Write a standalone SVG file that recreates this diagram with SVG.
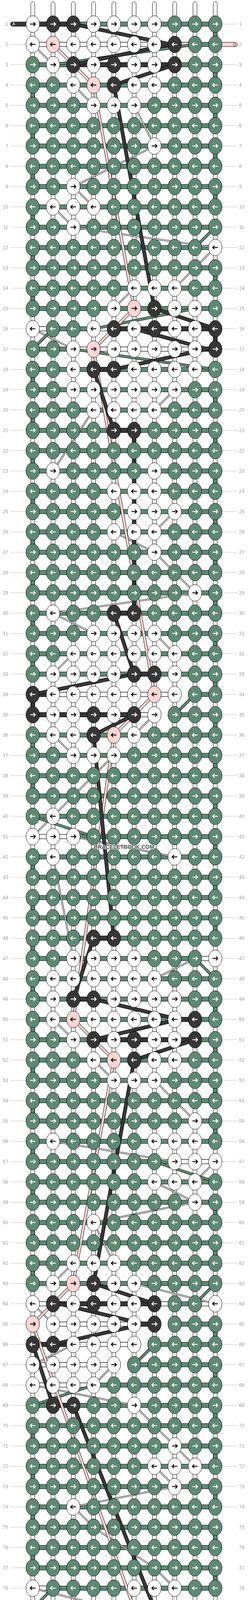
<svg xmlns="http://www.w3.org/2000/svg" width="636" height="4336" viewBox="0 0 636 4336">
<style>
.tb{fill:#fff;stroke:#000;stroke-width:1}
.tc{stroke:#c4c4c4;stroke-width:1;fill:none}
.g{fill:#5e8973;stroke:#000;stroke-width:1}
.w{fill:#fff;stroke:#000;stroke-width:1}
.d{fill:#363636;stroke:#000;stroke-width:1}
.p{fill:#ffd5d5;stroke:#000;stroke-width:1}
.n{fill:#fff}
.ll{font-family:"Liberation Sans",Arial,sans-serif;font-size:12.5px;fill:#a0a0a0;text-anchor:end}
.lr{font-family:"Liberation Sans",Arial,sans-serif;font-size:12.5px;fill:#a0a0a0}
.gl{stroke:#c0c0c0;stroke-width:1;fill:none}
.pl{font-family:"Liberation Sans",Arial,sans-serif;font-size:10.5px}
.wm{font-family:"Liberation Sans",Arial,sans-serif;font-size:14px;font-weight:bold;fill:#505050;stroke:#fff;stroke-width:2;paint-order:stroke;text-anchor:middle}
</style>
<defs>
<path id="a" d="M-6.8,0H6M1.8,-4.8L6.6,0L1.8,4.8" fill="none" stroke-width="2.2"/>
<ellipse id="e" rx="17.3" ry="21.3" stroke="#000" stroke-width="1"/>
<g id="GR"><use href="#e" fill="#5e8973"/><use href="#a" stroke="#fff"/></g>
<g id="GL"><use href="#e" fill="#5e8973"/><use href="#a" stroke="#fff" transform="scale(-1,1)"/></g>
<g id="DR"><use href="#e" fill="#363636"/><use href="#a" stroke="#fff"/></g>
<g id="DL"><use href="#e" fill="#363636"/><use href="#a" stroke="#fff" transform="scale(-1,1)"/></g>
<g id="WR"><use href="#e" fill="#fff"/><use href="#a" stroke="#000"/></g>
<g id="WL"><use href="#e" fill="#fff"/><use href="#a" stroke="#000" transform="scale(-1,1)"/></g>
<g id="PR"><use href="#e" fill="#ffd5d5"/><use href="#a" stroke="#000"/></g>
<g id="PL"><use href="#e" fill="#ffd5d5"/><use href="#a" stroke="#000" transform="scale(-1,1)"/></g>
<path id="pw" fill="none" d="M52,104L104,156M156,208L208,260M312,260L364,364M364,364L156,468M156,468L208,520M104,520L156,572M156,572L520,624M520,624L416,728M312,728L260,780M52,832L156,884M416,988L364,1040M208,1040L104,1196M416,1300L364,1352M260,1352L364,1404M364,1404L468,1508M468,1508L104,1560M104,1560L208,1612M364,1612L416,1664M156,1664L104,1716M364,1820L312,1872M104,1872L156,1924M260,1924L208,1976M208,1976L104,2080M104,2080L52,2132M156,2132L416,2184M104,2184L156,2444M468,2444L364,2496M104,2600L156,2652M208,2704L260,2756M364,2756L416,2808M416,2808L468,2860M104,2912L416,2964M520,2964L468,3016M364,3016L468,3068M468,3068L208,3120M208,3120L260,3224M156,3224L104,3276M312,3276L520,3328M52,3328L104,3380M156,3432L52,3484M260,3484L208,3536M52,3536L312,3588M312,3588L364,3640M364,3640L416,3692M416,3692L468,3744M364,3744L416,3796M416,3796L156,3848M156,3848L208,3900M208,3900L364,4004M364,4004L416,4056M52,4056L260,4108M208,4160L156,4212"/>
<path id="pg" fill="none" d="M468,104L104,156M468,780L208,832M156,884L520,936M104,832L52,884M520,572L468,624M468,1768L416,1820M52,2080L208,2132M468,2444L520,2496M364,2964L520,3016M520,3276L468,3328M364,3432L312,3484M208,3536L52,3588M104,4056L52,4108M468,4108L208,4160M156,4212L520,4264"/>
<path id="pp" fill="none" d="M104,104L208,208M208,208L312,780M312,780L208,884M208,884L364,1768M364,1768L260,1872M260,1872L156,2600M156,2600L260,2704M260,2704L156,3276M156,3276L52,3380M52,3380L312,4108M312,4108L208,4212"/>
<path id="pd" fill="none" d="M156,52L406,104M406,104L156,156M416,156L260,208M260,208L364,780M364,780L520,832M312,832L499,884M499,884L260,936M208,936L260,1092M312,1092L312,1560M260,1560L312,1716M312,1716L52,1768M52,1768L52,1820M312,1820L208,1872M208,1872L260,2392M208,2392L156,2548M208,2548L426,2600M426,2600L208,2652M468,2652L312,2704M312,2704L208,3276M208,3276L364,3328M120,3328L338,3380M338,3380L104,3432M52,3432L104,3588M156,3588L364,4108M364,4108L520,4160M312,4160L499,4212M499,4212L260,4264"/>
</defs>
<rect width="636" height="4336" fill="#fff"/>
<g transform="translate(32,9.7)">
<g id="connectors">
<g id="strands-vertical">
<rect class="tb" x="47" y="-5.2" width="10" height="4326.5" rx="5"/>
<rect class="tb" x="99" y="-5.2" width="10" height="4326.5" rx="5"/>
<rect class="tb" x="151" y="-5.2" width="10" height="4326.5" rx="5"/>
<rect class="tb" x="203" y="-5.2" width="10" height="4326.5" rx="5"/>
<rect class="tb" x="255" y="-5.2" width="10" height="4326.5" rx="5"/>
<rect class="tb" x="307" y="-5.2" width="10" height="4326.5" rx="5"/>
<rect class="tb" x="359" y="-5.2" width="10" height="4326.5" rx="5"/>
<rect class="tb" x="411" y="-5.2" width="10" height="4326.5" rx="5"/>
<rect class="tb" x="463" y="-5.2" width="10" height="4326.5" rx="5"/>
<rect class="tb" x="515" y="-5.2" width="10" height="4326.5" rx="5"/>
<path class="tc" d="M52,0V4316M104,0V4316M156,0V4316M208,0V4316M260,0V4316M312,0V4316M364,0V4316M416,0V4316M468,0V4316M520,0V4316"/>
</g>
<g id="pills">
<rect class="d" x="-5.3" y="46.5" width="70" height="11" rx="5.5"/>
<rect class="d" x="-5.3" y="4258.5" width="70" height="11" rx="5.5"/>
<rect class="p" x="500" y="98.5" width="76.7" height="11" rx="5.5"/>
<rect class="p" x="500" y="4206.5" width="76.7" height="11" rx="5.5"/>
</g>
<g id="strands-horizontal">
<path class="g" d="M52,46.5h468v11h-468zm0,52h468v11h-468zm0,52h468v11h-468zm0,52h468v11h-468zm0,52h468v11h-468zm0,52h468v11h-468zm0,52h468v11h-468zm0,52h468v11h-468zm0,52h468v11h-468zm0,52h468v11h-468zm0,52h468v11h-468zm0,52h468v11h-468zm0,52h468v11h-468zm0,52h468v11h-468zm0,52h468v11h-468zm0,52h468v11h-468zm0,52h468v11h-468zm0,52h468v11h-468zm0,52h468v11h-468zm0,52h468v11h-468zm0,52h468v11h-468zm0,52h468v11h-468zm0,52h468v11h-468zm0,52h468v11h-468zm0,52h468v11h-468zm0,52h468v11h-468zm0,52h468v11h-468zm0,52h468v11h-468zm0,52h468v11h-468zm0,52h468v11h-468zm0,52h468v11h-468zm0,52h468v11h-468zm0,52h468v11h-468zm0,52h468v11h-468zm0,52h468v11h-468zm0,52h468v11h-468zm0,52h468v11h-468zm0,52h468v11h-468zm0,52h468v11h-468zm0,52h468v11h-468zm0,52h468v11h-468zm0,52h468v11h-468zm0,52h468v11h-468zm0,52h468v11h-468zm0,52h468v11h-468zm0,52h468v11h-468zm0,52h468v11h-468zm0,52h468v11h-468zm0,52h468v11h-468zm0,52h468v11h-468zm0,52h468v11h-468zm0,52h468v11h-468zm0,52h468v11h-468zm0,52h468v11h-468zm0,52h468v11h-468zm0,52h468v11h-468zm0,52h468v11h-468zm0,52h468v11h-468zm0,52h468v11h-468zm0,52h468v11h-468zm0,52h468v11h-468zm0,52h468v11h-468zm0,52h468v11h-468zm0,52h468v11h-468zm0,52h468v11h-468zm0,52h468v11h-468zm0,52h468v11h-468zm0,52h468v11h-468zm0,52h468v11h-468zm0,52h468v11h-468zm0,52h468v11h-468zm0,52h468v11h-468zm0,52h468v11h-468zm0,52h468v11h-468zm0,52h468v11h-468zm0,52h468v11h-468zm0,52h468v11h-468zm0,52h468v11h-468zm0,52h468v11h-468zm0,52h468v11h-468zm0,52h468v11h-468z"/>
<rect class="d" x="52" y="46.5" width="104" height="11"/>
<rect class="w" x="52" y="98.5" width="312" height="11"/>
<rect class="d" x="364" y="98.5" width="52" height="11"/>
<rect class="p" x="416" y="98.5" width="52" height="11"/>
<rect class="d" x="156" y="150.5" width="260" height="11"/>
<rect class="w" x="52" y="826.5" width="52" height="11"/>
<rect class="w" x="208" y="826.5" width="52" height="11"/>
<rect class="d" x="260" y="826.5" width="260" height="11"/>
<rect class="w" x="156" y="878.5" width="312" height="11"/>
<rect class="d" x="468" y="878.5" width="52" height="11"/>
<rect class="d" x="208" y="930.5" width="52" height="11"/>
<rect class="d" x="260" y="1086.5" width="52" height="11"/>
<rect class="d" x="260" y="1554.5" width="52" height="11"/>
<rect class="d" x="312" y="1710.5" width="52" height="11"/>
<rect class="d" x="52" y="1762.5" width="52" height="11"/>
<rect class="w" x="104" y="1762.5" width="312" height="11"/>
<rect class="n" x="416" y="1761.5" width="52" height="13"/>
<rect class="d" x="52" y="1814.5" width="260" height="11"/>
<rect class="w" x="312" y="1814.5" width="52" height="11"/>
<rect class="n" x="364" y="1813.5" width="52" height="13"/>
<rect class="w" x="52" y="2126.5" width="104" height="11"/>
<rect class="d" x="208" y="2386.5" width="52" height="11"/>
<rect class="w" x="468" y="2438.5" width="52" height="11"/>
<rect class="d" x="156" y="2542.5" width="52" height="11"/>
<rect class="d" x="416" y="2594.5" width="52" height="11"/>
<rect class="d" x="208" y="2646.5" width="260" height="11"/>
<rect class="w" x="416" y="2958.5" width="104" height="11"/>
<rect class="w" x="52" y="3322.5" width="52" height="11"/>
<rect class="d" x="104" y="3322.5" width="260" height="11"/>
<rect class="w" x="364" y="3322.5" width="52" height="11"/>
<rect class="w" x="468" y="3322.5" width="52" height="11"/>
<rect class="n" x="52" y="3373.5" width="52" height="13"/>
<rect class="w" x="104" y="3374.5" width="208" height="11"/>
<rect class="d" x="312" y="3374.5" width="52" height="11"/>
<rect class="n" x="364" y="3373.5" width="52" height="13"/>
<rect class="d" x="52" y="3426.5" width="104" height="11"/>
<rect class="w" x="156" y="3426.5" width="156" height="11"/>
<rect class="n" x="312" y="3425.5" width="52" height="13"/>
<rect class="w" x="52" y="3478.5" width="208" height="11"/>
<rect class="n" x="260" y="3477.5" width="52" height="13"/>
<rect class="w" x="52" y="3530.5" width="156" height="11"/>
<rect class="d" x="104" y="3582.5" width="52" height="11"/>
<rect class="w" x="52" y="4050.5" width="52" height="11"/>
<rect class="w" x="208" y="4154.5" width="52" height="11"/>
<rect class="d" x="260" y="4154.5" width="260" height="11"/>
<rect class="w" x="156" y="4206.5" width="312" height="11"/>
<rect class="d" x="468" y="4206.5" width="52" height="11"/>
<rect class="d" x="52" y="4258.5" width="208" height="11"/>
</g>
<g id="strands-turns">
<path class="g" d="M515,72h10v12h-10zM515,176h10v12h-10zM515,280h10v12h-10zM515,384h10v12h-10zM515,488h10v12h-10zM515,696h10v12h-10zM515,1008h10v12h-10zM515,1112h10v12h-10zM515,1216h10v12h-10zM515,1320h10v12h-10zM515,1424h10v12h-10zM515,1528h10v12h-10zM515,1632h10v12h-10zM515,1736h10v12h-10zM515,1840h10v12h-10zM515,1944h10v12h-10zM515,2048h10v12h-10zM515,2152h10v12h-10zM515,2256h10v12h-10zM515,2360h10v12h-10zM515,2568h10v12h-10zM515,2672h10v12h-10zM515,2776h10v12h-10zM515,2880h10v12h-10zM515,3088h10v12h-10zM515,3192h10v12h-10zM515,3400h10v12h-10zM515,3504h10v12h-10zM515,3608h10v12h-10zM515,3712h10v12h-10zM515,3816h10v12h-10zM515,3920h10v12h-10zM515,4024h10v12h-10z"/>
<path class="g" d="M47,228h10v12h-10zM47,332h10v12h-10zM47,436h10v12h-10zM47,540h10v12h-10zM47,644h10v12h-10zM47,748h10v12h-10zM47,956h10v12h-10zM47,1060h10v12h-10zM47,1164h10v12h-10zM47,1268h10v12h-10zM47,1372h10v12h-10zM47,1476h10v12h-10zM47,1580h10v12h-10zM47,1684h10v12h-10zM47,1892h10v12h-10zM47,1996h10v12h-10zM47,2204h10v12h-10zM47,2308h10v12h-10zM47,2412h10v12h-10zM47,2516h10v12h-10zM47,2620h10v12h-10zM47,2724h10v12h-10zM47,2828h10v12h-10zM47,2932h10v12h-10zM47,3036h10v12h-10zM47,3140h10v12h-10zM47,3244h10v12h-10zM47,3660h10v12h-10zM47,3764h10v12h-10zM47,3868h10v12h-10zM47,3972h10v12h-10zM47,4180h10v12h-10z"/>
<path class="d" d="M515,852h10v12h-10zM515,4180h10v12h-10zM47,1788h10v12h-10z"/>
</g>
<g id="strands-float">
<use href="#pw" stroke="#000" stroke-width="4"/>
<use href="#pw" stroke="#fff" stroke-width="2"/>
<use href="#pg" stroke="#000" stroke-width="7"/>
<use href="#pg" stroke="#5e8973" stroke-width="5"/>
<use href="#pp" stroke="#000" stroke-width="7.5"/>
<use href="#pp" stroke="#ffd5d5" stroke-width="5.5"/>
<use href="#pd" stroke="#000" stroke-width="9.5"/>
<use href="#pd" stroke="#363636" stroke-width="7.5"/>
</g>
</g>
<g id="knots">
<g transform="translate(0,52)"><g id="k1-1"><use href="#WR" x="52"/></g><g id="k1-2"><use href="#DR" x="104"/></g><g id="k1-3"><use href="#DR" x="156"/></g><g id="k1-4"><use href="#WR" x="208"/></g><g id="k1-5"><use href="#WR" x="260"/></g><g id="k1-6"><use href="#WR" x="312"/></g><g id="k1-7"><use href="#WR" x="364"/></g><g id="k1-8"><use href="#GR" x="416"/></g><g id="k1-9"><use href="#GR" x="468"/></g><g id="k1-10"><use href="#GR" x="520"/></g></g>
<g transform="translate(0,104)"><g id="k2-1"><use href="#WL" x="52"/></g><g id="k2-2"><use href="#PL" x="104"/></g><g id="k2-3"><use href="#WL" x="156"/></g><g id="k2-4"><use href="#WL" x="208"/></g><g id="k2-5"><use href="#WL" x="260"/></g><g id="k2-6"><use href="#WL" x="312"/></g><g id="k2-7"><use href="#WL" x="364"/></g><g id="k2-8"><use href="#DL" x="416"/></g><g id="k2-9"><use href="#GL" x="468"/></g><g id="k2-10"><use href="#GL" x="520"/></g></g>
<g transform="translate(0,156)"><g id="k3-1"><use href="#GR" x="52"/></g><g id="k3-2"><use href="#WR" x="104"/></g><g id="k3-3"><use href="#DR" x="156"/></g><g id="k3-4"><use href="#WR" x="208"/></g><g id="k3-5"><use href="#DR" x="260"/></g><g id="k3-6"><use href="#WR" x="312"/></g><g id="k3-7"><use href="#WR" x="364"/></g><g id="k3-8"><use href="#DR" x="416"/></g><g id="k3-9"><use href="#GR" x="468"/></g><g id="k3-10"><use href="#GR" x="520"/></g></g>
<g transform="translate(0,208)"><g id="k4-1"><use href="#GL" x="52"/></g><g id="k4-2"><use href="#GL" x="104"/></g><g id="k4-3"><use href="#WL" x="156"/></g><g id="k4-4"><use href="#PL" x="208"/></g><g id="k4-5"><use href="#DL" x="260"/></g><g id="k4-6"><use href="#WL" x="312"/></g><g id="k4-7"><use href="#WL" x="364"/></g><g id="k4-8"><use href="#GL" x="416"/></g><g id="k4-9"><use href="#GL" x="468"/></g><g id="k4-10"><use href="#GL" x="520"/></g></g>
<g transform="translate(0,260)"><g id="k5-1"><use href="#GR" x="52"/></g><g id="k5-2"><use href="#GR" x="104"/></g><g id="k5-3"><use href="#GR" x="156"/></g><g id="k5-4"><use href="#WR" x="208"/></g><g id="k5-5"><use href="#WR" x="260"/></g><g id="k5-6"><use href="#WR" x="312"/></g><g id="k5-7"><use href="#GR" x="364"/></g><g id="k5-8"><use href="#GR" x="416"/></g><g id="k5-9"><use href="#GR" x="468"/></g><g id="k5-10"><use href="#GR" x="520"/></g></g>
<g transform="translate(0,312)"><g id="k6-1"><use href="#GL" x="52"/></g><g id="k6-2"><use href="#GL" x="104"/></g><g id="k6-3"><use href="#GL" x="156"/></g><g id="k6-4"><use href="#GL" x="208"/></g><g id="k6-5"><use href="#GL" x="260"/></g><g id="k6-6"><use href="#GL" x="312"/></g><g id="k6-7"><use href="#GL" x="364"/></g><g id="k6-8"><use href="#GL" x="416"/></g><g id="k6-9"><use href="#GL" x="468"/></g><g id="k6-10"><use href="#GL" x="520"/></g></g>
<g transform="translate(0,364)"><g id="k7-1"><use href="#GR" x="52"/></g><g id="k7-2"><use href="#GR" x="104"/></g><g id="k7-3"><use href="#GR" x="156"/></g><g id="k7-4"><use href="#GR" x="208"/></g><g id="k7-5"><use href="#GR" x="260"/></g><g id="k7-6"><use href="#GR" x="312"/></g><g id="k7-7"><use href="#WR" x="364"/></g><g id="k7-8"><use href="#GR" x="416"/></g><g id="k7-9"><use href="#GR" x="468"/></g><g id="k7-10"><use href="#GR" x="520"/></g></g>
<g transform="translate(0,416)"><g id="k8-1"><use href="#GL" x="52"/></g><g id="k8-2"><use href="#GL" x="104"/></g><g id="k8-3"><use href="#GL" x="156"/></g><g id="k8-4"><use href="#GL" x="208"/></g><g id="k8-5"><use href="#GL" x="260"/></g><g id="k8-6"><use href="#GL" x="312"/></g><g id="k8-7"><use href="#GL" x="364"/></g><g id="k8-8"><use href="#GL" x="416"/></g><g id="k8-9"><use href="#GL" x="468"/></g><g id="k8-10"><use href="#GL" x="520"/></g></g>
<g transform="translate(0,468)"><g id="k9-1"><use href="#GR" x="52"/></g><g id="k9-2"><use href="#GR" x="104"/></g><g id="k9-3"><use href="#WR" x="156"/></g><g id="k9-4"><use href="#GR" x="208"/></g><g id="k9-5"><use href="#GR" x="260"/></g><g id="k9-6"><use href="#GR" x="312"/></g><g id="k9-7"><use href="#GR" x="364"/></g><g id="k9-8"><use href="#GR" x="416"/></g><g id="k9-9"><use href="#GR" x="468"/></g><g id="k9-10"><use href="#GR" x="520"/></g></g>
<g transform="translate(0,520)"><g id="k10-1"><use href="#GL" x="52"/></g><g id="k10-2"><use href="#WL" x="104"/></g><g id="k10-3"><use href="#WL" x="156"/></g><g id="k10-4"><use href="#WL" x="208"/></g><g id="k10-5"><use href="#GL" x="260"/></g><g id="k10-6"><use href="#GL" x="312"/></g><g id="k10-7"><use href="#GL" x="364"/></g><g id="k10-8"><use href="#GL" x="416"/></g><g id="k10-9"><use href="#GL" x="468"/></g><g id="k10-10"><use href="#GL" x="520"/></g></g>
<g transform="translate(0,572)"><g id="k11-1"><use href="#GR" x="52"/></g><g id="k11-2"><use href="#GR" x="104"/></g><g id="k11-3"><use href="#WR" x="156"/></g><g id="k11-4"><use href="#GR" x="208"/></g><g id="k11-5"><use href="#GR" x="260"/></g><g id="k11-6"><use href="#GR" x="312"/></g><g id="k11-7"><use href="#GR" x="364"/></g><g id="k11-8"><use href="#GR" x="416"/></g><g id="k11-9"><use href="#GR" x="468"/></g><g id="k11-10"><use href="#GR" x="520"/></g></g>
<g transform="translate(0,624)"><g id="k12-1"><use href="#GL" x="52"/></g><g id="k12-2"><use href="#GL" x="104"/></g><g id="k12-3"><use href="#GL" x="156"/></g><g id="k12-4"><use href="#GL" x="208"/></g><g id="k12-5"><use href="#GL" x="260"/></g><g id="k12-6"><use href="#GL" x="312"/></g><g id="k12-7"><use href="#GL" x="364"/></g><g id="k12-8"><use href="#GL" x="416"/></g><g id="k12-9"><use href="#GL" x="468"/></g><g id="k12-10"><use href="#WL" x="520"/></g></g>
<g transform="translate(0,676)"><g id="k13-1"><use href="#GR" x="52"/></g><g id="k13-2"><use href="#GR" x="104"/></g><g id="k13-3"><use href="#GR" x="156"/></g><g id="k13-4"><use href="#GR" x="208"/></g><g id="k13-5"><use href="#GR" x="260"/></g><g id="k13-6"><use href="#GR" x="312"/></g><g id="k13-7"><use href="#GR" x="364"/></g><g id="k13-8"><use href="#GR" x="416"/></g><g id="k13-9"><use href="#GR" x="468"/></g><g id="k13-10"><use href="#GR" x="520"/></g></g>
<g transform="translate(0,728)"><g id="k14-1"><use href="#GL" x="52"/></g><g id="k14-2"><use href="#GL" x="104"/></g><g id="k14-3"><use href="#GL" x="156"/></g><g id="k14-4"><use href="#GL" x="208"/></g><g id="k14-5"><use href="#GL" x="260"/></g><g id="k14-6"><use href="#WL" x="312"/></g><g id="k14-7"><use href="#WL" x="364"/></g><g id="k14-8"><use href="#WL" x="416"/></g><g id="k14-9"><use href="#GL" x="468"/></g><g id="k14-10"><use href="#GL" x="520"/></g></g>
<g transform="translate(0,780)"><g id="k15-1"><use href="#GR" x="52"/></g><g id="k15-2"><use href="#GR" x="104"/></g><g id="k15-3"><use href="#GR" x="156"/></g><g id="k15-4"><use href="#GR" x="208"/></g><g id="k15-5"><use href="#WR" x="260"/></g><g id="k15-6"><use href="#PR" x="312"/></g><g id="k15-7"><use href="#DR" x="364"/></g><g id="k15-8"><use href="#WR" x="416"/></g><g id="k15-9"><use href="#WR" x="468"/></g><g id="k15-10"><use href="#GR" x="520"/></g></g>
<g transform="translate(0,832)"><g id="k16-1"><use href="#WL" x="52"/></g><g id="k16-2"><use href="#GL" x="104"/></g><g id="k16-3"><use href="#GL" x="156"/></g><g id="k16-4"><use href="#WL" x="208"/></g><g id="k16-5"><use href="#DL" x="260"/></g><g id="k16-6"><use href="#WL" x="312"/></g><g id="k16-7"><use href="#DL" x="364"/></g><g id="k16-8"><use href="#WL" x="416"/></g><g id="k16-9"><use href="#WL" x="468"/></g><g id="k16-10"><use href="#DL" x="520"/></g></g>
<g transform="translate(0,884)"><g id="k17-1"><use href="#GR" x="52"/></g><g id="k17-2"><use href="#GR" x="104"/></g><g id="k17-3"><use href="#WR" x="156"/></g><g id="k17-4"><use href="#PR" x="208"/></g><g id="k17-5"><use href="#WR" x="260"/></g><g id="k17-6"><use href="#WR" x="312"/></g><g id="k17-7"><use href="#WR" x="364"/></g><g id="k17-8"><use href="#WR" x="416"/></g><g id="k17-9"><use href="#WR" x="468"/></g><g id="k17-10"><use href="#DR" x="520"/></g></g>
<g transform="translate(0,936)"><g id="k18-1"><use href="#GL" x="52"/></g><g id="k18-2"><use href="#GL" x="104"/></g><g id="k18-3"><use href="#WL" x="156"/></g><g id="k18-4"><use href="#DL" x="208"/></g><g id="k18-5"><use href="#DL" x="260"/></g><g id="k18-6"><use href="#WL" x="312"/></g><g id="k18-7"><use href="#WL" x="364"/></g><g id="k18-8"><use href="#WL" x="416"/></g><g id="k18-9"><use href="#WL" x="468"/></g><g id="k18-10"><use href="#GL" x="520"/></g></g>
<g transform="translate(0,988)"><g id="k19-1"><use href="#GR" x="52"/></g><g id="k19-2"><use href="#GR" x="104"/></g><g id="k19-3"><use href="#WR" x="156"/></g><g id="k19-4"><use href="#WR" x="208"/></g><g id="k19-5"><use href="#WR" x="260"/></g><g id="k19-6"><use href="#WR" x="312"/></g><g id="k19-7"><use href="#WR" x="364"/></g><g id="k19-8"><use href="#WR" x="416"/></g><g id="k19-9"><use href="#GR" x="468"/></g><g id="k19-10"><use href="#GR" x="520"/></g></g>
<g transform="translate(0,1040)"><g id="k20-1"><use href="#GL" x="52"/></g><g id="k20-2"><use href="#GL" x="104"/></g><g id="k20-3"><use href="#GL" x="156"/></g><g id="k20-4"><use href="#WL" x="208"/></g><g id="k20-5"><use href="#WL" x="260"/></g><g id="k20-6"><use href="#WL" x="312"/></g><g id="k20-7"><use href="#WL" x="364"/></g><g id="k20-8"><use href="#GL" x="416"/></g><g id="k20-9"><use href="#GL" x="468"/></g><g id="k20-10"><use href="#GL" x="520"/></g></g>
<g transform="translate(0,1092)"><g id="k21-1"><use href="#GR" x="52"/></g><g id="k21-2"><use href="#GR" x="104"/></g><g id="k21-3"><use href="#GR" x="156"/></g><g id="k21-4"><use href="#GR" x="208"/></g><g id="k21-5"><use href="#DR" x="260"/></g><g id="k21-6"><use href="#DR" x="312"/></g><g id="k21-7"><use href="#GR" x="364"/></g><g id="k21-8"><use href="#GR" x="416"/></g><g id="k21-9"><use href="#GR" x="468"/></g><g id="k21-10"><use href="#GR" x="520"/></g></g>
<g transform="translate(0,1144)"><g id="k22-1"><use href="#GL" x="52"/></g><g id="k22-2"><use href="#GL" x="104"/></g><g id="k22-3"><use href="#GL" x="156"/></g><g id="k22-4"><use href="#GL" x="208"/></g><g id="k22-5"><use href="#GL" x="260"/></g><g id="k22-6"><use href="#GL" x="312"/></g><g id="k22-7"><use href="#GL" x="364"/></g><g id="k22-8"><use href="#GL" x="416"/></g><g id="k22-9"><use href="#GL" x="468"/></g><g id="k22-10"><use href="#GL" x="520"/></g></g>
<g transform="translate(0,1196)"><g id="k23-1"><use href="#GR" x="52"/></g><g id="k23-2"><use href="#WR" x="104"/></g><g id="k23-3"><use href="#GR" x="156"/></g><g id="k23-4"><use href="#GR" x="208"/></g><g id="k23-5"><use href="#GR" x="260"/></g><g id="k23-6"><use href="#GR" x="312"/></g><g id="k23-7"><use href="#WR" x="364"/></g><g id="k23-8"><use href="#GR" x="416"/></g><g id="k23-9"><use href="#GR" x="468"/></g><g id="k23-10"><use href="#GR" x="520"/></g></g>
<g transform="translate(0,1248)"><g id="k24-1"><use href="#GL" x="52"/></g><g id="k24-2"><use href="#GL" x="104"/></g><g id="k24-3"><use href="#GL" x="156"/></g><g id="k24-4"><use href="#GL" x="208"/></g><g id="k24-5"><use href="#WL" x="260"/></g><g id="k24-6"><use href="#WL" x="312"/></g><g id="k24-7"><use href="#WL" x="364"/></g><g id="k24-8"><use href="#GL" x="416"/></g><g id="k24-9"><use href="#GL" x="468"/></g><g id="k24-10"><use href="#GL" x="520"/></g></g>
<g transform="translate(0,1300)"><g id="k25-1"><use href="#GR" x="52"/></g><g id="k25-2"><use href="#GR" x="104"/></g><g id="k25-3"><use href="#GR" x="156"/></g><g id="k25-4"><use href="#GR" x="208"/></g><g id="k25-5"><use href="#GR" x="260"/></g><g id="k25-6"><use href="#WR" x="312"/></g><g id="k25-7"><use href="#WR" x="364"/></g><g id="k25-8"><use href="#WR" x="416"/></g><g id="k25-9"><use href="#GR" x="468"/></g><g id="k25-10"><use href="#GR" x="520"/></g></g>
<g transform="translate(0,1352)"><g id="k26-1"><use href="#GL" x="52"/></g><g id="k26-2"><use href="#GL" x="104"/></g><g id="k26-3"><use href="#GL" x="156"/></g><g id="k26-4"><use href="#GL" x="208"/></g><g id="k26-5"><use href="#WL" x="260"/></g><g id="k26-6"><use href="#WL" x="312"/></g><g id="k26-7"><use href="#WL" x="364"/></g><g id="k26-8"><use href="#GL" x="416"/></g><g id="k26-9"><use href="#GL" x="468"/></g><g id="k26-10"><use href="#GL" x="520"/></g></g>
<g transform="translate(0,1404)"><g id="k27-1"><use href="#GR" x="52"/></g><g id="k27-2"><use href="#GR" x="104"/></g><g id="k27-3"><use href="#GR" x="156"/></g><g id="k27-4"><use href="#GR" x="208"/></g><g id="k27-5"><use href="#GR" x="260"/></g><g id="k27-6"><use href="#GR" x="312"/></g><g id="k27-7"><use href="#WR" x="364"/></g><g id="k27-8"><use href="#GR" x="416"/></g><g id="k27-9"><use href="#GR" x="468"/></g><g id="k27-10"><use href="#GR" x="520"/></g></g>
<g transform="translate(0,1456)"><g id="k28-1"><use href="#GL" x="52"/></g><g id="k28-2"><use href="#GL" x="104"/></g><g id="k28-3"><use href="#GL" x="156"/></g><g id="k28-4"><use href="#GL" x="208"/></g><g id="k28-5"><use href="#GL" x="260"/></g><g id="k28-6"><use href="#GL" x="312"/></g><g id="k28-7"><use href="#GL" x="364"/></g><g id="k28-8"><use href="#GL" x="416"/></g><g id="k28-9"><use href="#GL" x="468"/></g><g id="k28-10"><use href="#GL" x="520"/></g></g>
<g transform="translate(0,1508)"><g id="k29-1"><use href="#GR" x="52"/></g><g id="k29-2"><use href="#GR" x="104"/></g><g id="k29-3"><use href="#GR" x="156"/></g><g id="k29-4"><use href="#GR" x="208"/></g><g id="k29-5"><use href="#GR" x="260"/></g><g id="k29-6"><use href="#GR" x="312"/></g><g id="k29-7"><use href="#GR" x="364"/></g><g id="k29-8"><use href="#GR" x="416"/></g><g id="k29-9"><use href="#WR" x="468"/></g><g id="k29-10"><use href="#GR" x="520"/></g></g>
<g transform="translate(0,1560)"><g id="k30-1"><use href="#GL" x="52"/></g><g id="k30-2"><use href="#WL" x="104"/></g><g id="k30-3"><use href="#GL" x="156"/></g><g id="k30-4"><use href="#GL" x="208"/></g><g id="k30-5"><use href="#DL" x="260"/></g><g id="k30-6"><use href="#DL" x="312"/></g><g id="k30-7"><use href="#GL" x="364"/></g><g id="k30-8"><use href="#GL" x="416"/></g><g id="k30-9"><use href="#GL" x="468"/></g><g id="k30-10"><use href="#GL" x="520"/></g></g>
<g transform="translate(0,1612)"><g id="k31-1"><use href="#GR" x="52"/></g><g id="k31-2"><use href="#GR" x="104"/></g><g id="k31-3"><use href="#GR" x="156"/></g><g id="k31-4"><use href="#WR" x="208"/></g><g id="k31-5"><use href="#WR" x="260"/></g><g id="k31-6"><use href="#WR" x="312"/></g><g id="k31-7"><use href="#WR" x="364"/></g><g id="k31-8"><use href="#GR" x="416"/></g><g id="k31-9"><use href="#GR" x="468"/></g><g id="k31-10"><use href="#GR" x="520"/></g></g>
<g transform="translate(0,1664)"><g id="k32-1"><use href="#GL" x="52"/></g><g id="k32-2"><use href="#GL" x="104"/></g><g id="k32-3"><use href="#WL" x="156"/></g><g id="k32-4"><use href="#WL" x="208"/></g><g id="k32-5"><use href="#WL" x="260"/></g><g id="k32-6"><use href="#WL" x="312"/></g><g id="k32-7"><use href="#WL" x="364"/></g><g id="k32-8"><use href="#WL" x="416"/></g><g id="k32-9"><use href="#GL" x="468"/></g><g id="k32-10"><use href="#GL" x="520"/></g></g>
<g transform="translate(0,1716)"><g id="k33-1"><use href="#GR" x="52"/></g><g id="k33-2"><use href="#WR" x="104"/></g><g id="k33-3"><use href="#WR" x="156"/></g><g id="k33-4"><use href="#WR" x="208"/></g><g id="k33-5"><use href="#WR" x="260"/></g><g id="k33-6"><use href="#DR" x="312"/></g><g id="k33-7"><use href="#DR" x="364"/></g><g id="k33-8"><use href="#WR" x="416"/></g><g id="k33-9"><use href="#GR" x="468"/></g><g id="k33-10"><use href="#GR" x="520"/></g></g>
<g transform="translate(0,1768)"><g id="k34-1"><use href="#DL" x="52"/></g><g id="k34-2"><use href="#WL" x="104"/></g><g id="k34-3"><use href="#WL" x="156"/></g><g id="k34-4"><use href="#WL" x="208"/></g><g id="k34-5"><use href="#WL" x="260"/></g><g id="k34-6"><use href="#WL" x="312"/></g><g id="k34-7"><use href="#PL" x="364"/></g><g id="k34-8"><use href="#WL" x="416"/></g><g id="k34-9"><use href="#GL" x="468"/></g><g id="k34-10"><use href="#GL" x="520"/></g></g>
<g transform="translate(0,1820)"><g id="k35-1"><use href="#DR" x="52"/></g><g id="k35-2"><use href="#WR" x="104"/></g><g id="k35-3"><use href="#WR" x="156"/></g><g id="k35-4"><use href="#DR" x="208"/></g><g id="k35-5"><use href="#WR" x="260"/></g><g id="k35-6"><use href="#DR" x="312"/></g><g id="k35-7"><use href="#WR" x="364"/></g><g id="k35-8"><use href="#GR" x="416"/></g><g id="k35-9"><use href="#GR" x="468"/></g><g id="k35-10"><use href="#GR" x="520"/></g></g>
<g transform="translate(0,1872)"><g id="k36-1"><use href="#GL" x="52"/></g><g id="k36-2"><use href="#WL" x="104"/></g><g id="k36-3"><use href="#WL" x="156"/></g><g id="k36-4"><use href="#DL" x="208"/></g><g id="k36-5"><use href="#PL" x="260"/></g><g id="k36-6"><use href="#WL" x="312"/></g><g id="k36-7"><use href="#GL" x="364"/></g><g id="k36-8"><use href="#GL" x="416"/></g><g id="k36-9"><use href="#GL" x="468"/></g><g id="k36-10"><use href="#GL" x="520"/></g></g>
<g transform="translate(0,1924)"><g id="k37-1"><use href="#GR" x="52"/></g><g id="k37-2"><use href="#GR" x="104"/></g><g id="k37-3"><use href="#WR" x="156"/></g><g id="k37-4"><use href="#WR" x="208"/></g><g id="k37-5"><use href="#WR" x="260"/></g><g id="k37-6"><use href="#GR" x="312"/></g><g id="k37-7"><use href="#GR" x="364"/></g><g id="k37-8"><use href="#GR" x="416"/></g><g id="k37-9"><use href="#GR" x="468"/></g><g id="k37-10"><use href="#GR" x="520"/></g></g>
<g transform="translate(0,1976)"><g id="k38-1"><use href="#GL" x="52"/></g><g id="k38-2"><use href="#GL" x="104"/></g><g id="k38-3"><use href="#GL" x="156"/></g><g id="k38-4"><use href="#GL" x="208"/></g><g id="k38-5"><use href="#GL" x="260"/></g><g id="k38-6"><use href="#GL" x="312"/></g><g id="k38-7"><use href="#GL" x="364"/></g><g id="k38-8"><use href="#GL" x="416"/></g><g id="k38-9"><use href="#GL" x="468"/></g><g id="k38-10"><use href="#GL" x="520"/></g></g>
<g transform="translate(0,2028)"><g id="k39-1"><use href="#GR" x="52"/></g><g id="k39-2"><use href="#GR" x="104"/></g><g id="k39-3"><use href="#GR" x="156"/></g><g id="k39-4"><use href="#GR" x="208"/></g><g id="k39-5"><use href="#GR" x="260"/></g><g id="k39-6"><use href="#GR" x="312"/></g><g id="k39-7"><use href="#GR" x="364"/></g><g id="k39-8"><use href="#GR" x="416"/></g><g id="k39-9"><use href="#GR" x="468"/></g><g id="k39-10"><use href="#GR" x="520"/></g></g>
<g transform="translate(0,2080)"><g id="k40-1"><use href="#GL" x="52"/></g><g id="k40-2"><use href="#WL" x="104"/></g><g id="k40-3"><use href="#GL" x="156"/></g><g id="k40-4"><use href="#GL" x="208"/></g><g id="k40-5"><use href="#GL" x="260"/></g><g id="k40-6"><use href="#GL" x="312"/></g><g id="k40-7"><use href="#GL" x="364"/></g><g id="k40-8"><use href="#GL" x="416"/></g><g id="k40-9"><use href="#GL" x="468"/></g><g id="k40-10"><use href="#GL" x="520"/></g></g>
<g transform="translate(0,2132)"><g id="k41-1"><use href="#WR" x="52"/></g><g id="k41-2"><use href="#WR" x="104"/></g><g id="k41-3"><use href="#WR" x="156"/></g><g id="k41-4"><use href="#GR" x="208"/></g><g id="k41-5"><use href="#GR" x="260"/></g><g id="k41-6"><use href="#GR" x="312"/></g><g id="k41-7"><use href="#GR" x="364"/></g><g id="k41-8"><use href="#GR" x="416"/></g><g id="k41-9"><use href="#GR" x="468"/></g><g id="k41-10"><use href="#GR" x="520"/></g></g>
<g transform="translate(0,2184)"><g id="k42-1"><use href="#GL" x="52"/></g><g id="k42-2"><use href="#WL" x="104"/></g><g id="k42-3"><use href="#GL" x="156"/></g><g id="k42-4"><use href="#GL" x="208"/></g><g id="k42-5"><use href="#GL" x="260"/></g><g id="k42-6"><use href="#GL" x="312"/></g><g id="k42-7"><use href="#GL" x="364"/></g><g id="k42-8"><use href="#WL" x="416"/></g><g id="k42-9"><use href="#GL" x="468"/></g><g id="k42-10"><use href="#GL" x="520"/></g></g>
<g transform="translate(0,2236)"><g id="k43-1"><use href="#GR" x="52"/></g><g id="k43-2"><use href="#GR" x="104"/></g><g id="k43-3"><use href="#GR" x="156"/></g><g id="k43-4"><use href="#GR" x="208"/></g><g id="k43-5"><use href="#GR" x="260"/></g><g id="k43-6"><use href="#GR" x="312"/></g><g id="k43-7"><use href="#GR" x="364"/></g><g id="k43-8"><use href="#GR" x="416"/></g><g id="k43-9"><use href="#GR" x="468"/></g><g id="k43-10"><use href="#GR" x="520"/></g></g>
<g transform="translate(0,2288)"><g id="k44-1"><use href="#GL" x="52"/></g><g id="k44-2"><use href="#GL" x="104"/></g><g id="k44-3"><use href="#GL" x="156"/></g><g id="k44-4"><use href="#GL" x="208"/></g><g id="k44-5"><use href="#GL" x="260"/></g><g id="k44-6"><use href="#GL" x="312"/></g><g id="k44-7"><use href="#GL" x="364"/></g><g id="k44-8"><use href="#GL" x="416"/></g><g id="k44-9"><use href="#GL" x="468"/></g><g id="k44-10"><use href="#GL" x="520"/></g></g>
<g transform="translate(0,2340)"><g id="k45-1"><use href="#GR" x="52"/></g><g id="k45-2"><use href="#GR" x="104"/></g><g id="k45-3"><use href="#GR" x="156"/></g><g id="k45-4"><use href="#GR" x="208"/></g><g id="k45-5"><use href="#GR" x="260"/></g><g id="k45-6"><use href="#GR" x="312"/></g><g id="k45-7"><use href="#GR" x="364"/></g><g id="k45-8"><use href="#GR" x="416"/></g><g id="k45-9"><use href="#GR" x="468"/></g><g id="k45-10"><use href="#GR" x="520"/></g></g>
<g transform="translate(0,2392)"><g id="k46-1"><use href="#GL" x="52"/></g><g id="k46-2"><use href="#GL" x="104"/></g><g id="k46-3"><use href="#GL" x="156"/></g><g id="k46-4"><use href="#DL" x="208"/></g><g id="k46-5"><use href="#DL" x="260"/></g><g id="k46-6"><use href="#GL" x="312"/></g><g id="k46-7"><use href="#GL" x="364"/></g><g id="k46-8"><use href="#GL" x="416"/></g><g id="k46-9"><use href="#GL" x="468"/></g><g id="k46-10"><use href="#GL" x="520"/></g></g>
<g transform="translate(0,2444)"><g id="k47-1"><use href="#GR" x="52"/></g><g id="k47-2"><use href="#GR" x="104"/></g><g id="k47-3"><use href="#WR" x="156"/></g><g id="k47-4"><use href="#WR" x="208"/></g><g id="k47-5"><use href="#WR" x="260"/></g><g id="k47-6"><use href="#WR" x="312"/></g><g id="k47-7"><use href="#GR" x="364"/></g><g id="k47-8"><use href="#GR" x="416"/></g><g id="k47-9"><use href="#GR" x="468"/></g><g id="k47-10"><use href="#WR" x="520"/></g></g>
<g transform="translate(0,2496)"><g id="k48-1"><use href="#GL" x="52"/></g><g id="k48-2"><use href="#WL" x="104"/></g><g id="k48-3"><use href="#WL" x="156"/></g><g id="k48-4"><use href="#WL" x="208"/></g><g id="k48-5"><use href="#WL" x="260"/></g><g id="k48-6"><use href="#WL" x="312"/></g><g id="k48-7"><use href="#WL" x="364"/></g><g id="k48-8"><use href="#GL" x="416"/></g><g id="k48-9"><use href="#GL" x="468"/></g><g id="k48-10"><use href="#GL" x="520"/></g></g>
<g transform="translate(0,2548)"><g id="k49-1"><use href="#GR" x="52"/></g><g id="k49-2"><use href="#WR" x="104"/></g><g id="k49-3"><use href="#DR" x="156"/></g><g id="k49-4"><use href="#DR" x="208"/></g><g id="k49-5"><use href="#WR" x="260"/></g><g id="k49-6"><use href="#WR" x="312"/></g><g id="k49-7"><use href="#WR" x="364"/></g><g id="k49-8"><use href="#WR" x="416"/></g><g id="k49-9"><use href="#GR" x="468"/></g><g id="k49-10"><use href="#GR" x="520"/></g></g>
<g transform="translate(0,2600)"><g id="k50-1"><use href="#GL" x="52"/></g><g id="k50-2"><use href="#WL" x="104"/></g><g id="k50-3"><use href="#PL" x="156"/></g><g id="k50-4"><use href="#WL" x="208"/></g><g id="k50-5"><use href="#WL" x="260"/></g><g id="k50-6"><use href="#WL" x="312"/></g><g id="k50-7"><use href="#WL" x="364"/></g><g id="k50-8"><use href="#WL" x="416"/></g><g id="k50-9"><use href="#DL" x="468"/></g><g id="k50-10"><use href="#GL" x="520"/></g></g>
<g transform="translate(0,2652)"><g id="k51-1"><use href="#GR" x="52"/></g><g id="k51-2"><use href="#GR" x="104"/></g><g id="k51-3"><use href="#WR" x="156"/></g><g id="k51-4"><use href="#DR" x="208"/></g><g id="k51-5"><use href="#WR" x="260"/></g><g id="k51-6"><use href="#DR" x="312"/></g><g id="k51-7"><use href="#WR" x="364"/></g><g id="k51-8"><use href="#WR" x="416"/></g><g id="k51-9"><use href="#DR" x="468"/></g><g id="k51-10"><use href="#GR" x="520"/></g></g>
<g transform="translate(0,2704)"><g id="k52-1"><use href="#GL" x="52"/></g><g id="k52-2"><use href="#GL" x="104"/></g><g id="k52-3"><use href="#GL" x="156"/></g><g id="k52-4"><use href="#WL" x="208"/></g><g id="k52-5"><use href="#PL" x="260"/></g><g id="k52-6"><use href="#DL" x="312"/></g><g id="k52-7"><use href="#WL" x="364"/></g><g id="k52-8"><use href="#WL" x="416"/></g><g id="k52-9"><use href="#GL" x="468"/></g><g id="k52-10"><use href="#GL" x="520"/></g></g>
<g transform="translate(0,2756)"><g id="k53-1"><use href="#GR" x="52"/></g><g id="k53-2"><use href="#GR" x="104"/></g><g id="k53-3"><use href="#GR" x="156"/></g><g id="k53-4"><use href="#GR" x="208"/></g><g id="k53-5"><use href="#WR" x="260"/></g><g id="k53-6"><use href="#WR" x="312"/></g><g id="k53-7"><use href="#WR" x="364"/></g><g id="k53-8"><use href="#GR" x="416"/></g><g id="k53-9"><use href="#GR" x="468"/></g><g id="k53-10"><use href="#GR" x="520"/></g></g>
<g transform="translate(0,2808)"><g id="k54-1"><use href="#GL" x="52"/></g><g id="k54-2"><use href="#GL" x="104"/></g><g id="k54-3"><use href="#GL" x="156"/></g><g id="k54-4"><use href="#GL" x="208"/></g><g id="k54-5"><use href="#GL" x="260"/></g><g id="k54-6"><use href="#GL" x="312"/></g><g id="k54-7"><use href="#GL" x="364"/></g><g id="k54-8"><use href="#GL" x="416"/></g><g id="k54-9"><use href="#GL" x="468"/></g><g id="k54-10"><use href="#GL" x="520"/></g></g>
<g transform="translate(0,2860)"><g id="k55-1"><use href="#GR" x="52"/></g><g id="k55-2"><use href="#GR" x="104"/></g><g id="k55-3"><use href="#GR" x="156"/></g><g id="k55-4"><use href="#GR" x="208"/></g><g id="k55-5"><use href="#GR" x="260"/></g><g id="k55-6"><use href="#GR" x="312"/></g><g id="k55-7"><use href="#GR" x="364"/></g><g id="k55-8"><use href="#GR" x="416"/></g><g id="k55-9"><use href="#WR" x="468"/></g><g id="k55-10"><use href="#GR" x="520"/></g></g>
<g transform="translate(0,2912)"><g id="k56-1"><use href="#GL" x="52"/></g><g id="k56-2"><use href="#WL" x="104"/></g><g id="k56-3"><use href="#GL" x="156"/></g><g id="k56-4"><use href="#GL" x="208"/></g><g id="k56-5"><use href="#GL" x="260"/></g><g id="k56-6"><use href="#GL" x="312"/></g><g id="k56-7"><use href="#WL" x="364"/></g><g id="k56-8"><use href="#WL" x="416"/></g><g id="k56-9"><use href="#WL" x="468"/></g><g id="k56-10"><use href="#GL" x="520"/></g></g>
<g transform="translate(0,2964)"><g id="k57-1"><use href="#GR" x="52"/></g><g id="k57-2"><use href="#GR" x="104"/></g><g id="k57-3"><use href="#GR" x="156"/></g><g id="k57-4"><use href="#GR" x="208"/></g><g id="k57-5"><use href="#GR" x="260"/></g><g id="k57-6"><use href="#GR" x="312"/></g><g id="k57-7"><use href="#GR" x="364"/></g><g id="k57-8"><use href="#WR" x="416"/></g><g id="k57-9"><use href="#WR" x="468"/></g><g id="k57-10"><use href="#WR" x="520"/></g></g>
<g transform="translate(0,3016)"><g id="k58-1"><use href="#GL" x="52"/></g><g id="k58-2"><use href="#GL" x="104"/></g><g id="k58-3"><use href="#GL" x="156"/></g><g id="k58-4"><use href="#GL" x="208"/></g><g id="k58-5"><use href="#GL" x="260"/></g><g id="k58-6"><use href="#GL" x="312"/></g><g id="k58-7"><use href="#WL" x="364"/></g><g id="k58-8"><use href="#WL" x="416"/></g><g id="k58-9"><use href="#WL" x="468"/></g><g id="k58-10"><use href="#GL" x="520"/></g></g>
<g transform="translate(0,3068)"><g id="k59-1"><use href="#GR" x="52"/></g><g id="k59-2"><use href="#GR" x="104"/></g><g id="k59-3"><use href="#GR" x="156"/></g><g id="k59-4"><use href="#GR" x="208"/></g><g id="k59-5"><use href="#GR" x="260"/></g><g id="k59-6"><use href="#GR" x="312"/></g><g id="k59-7"><use href="#GR" x="364"/></g><g id="k59-8"><use href="#GR" x="416"/></g><g id="k59-9"><use href="#WR" x="468"/></g><g id="k59-10"><use href="#GR" x="520"/></g></g>
<g transform="translate(0,3120)"><g id="k60-1"><use href="#GL" x="52"/></g><g id="k60-2"><use href="#GL" x="104"/></g><g id="k60-3"><use href="#GL" x="156"/></g><g id="k60-4"><use href="#WL" x="208"/></g><g id="k60-5"><use href="#GL" x="260"/></g><g id="k60-6"><use href="#GL" x="312"/></g><g id="k60-7"><use href="#GL" x="364"/></g><g id="k60-8"><use href="#GL" x="416"/></g><g id="k60-9"><use href="#GL" x="468"/></g><g id="k60-10"><use href="#GL" x="520"/></g></g>
<g transform="translate(0,3172)"><g id="k61-1"><use href="#GR" x="52"/></g><g id="k61-2"><use href="#GR" x="104"/></g><g id="k61-3"><use href="#GR" x="156"/></g><g id="k61-4"><use href="#GR" x="208"/></g><g id="k61-5"><use href="#GR" x="260"/></g><g id="k61-6"><use href="#GR" x="312"/></g><g id="k61-7"><use href="#GR" x="364"/></g><g id="k61-8"><use href="#GR" x="416"/></g><g id="k61-9"><use href="#GR" x="468"/></g><g id="k61-10"><use href="#GR" x="520"/></g></g>
<g transform="translate(0,3224)"><g id="k62-1"><use href="#GL" x="52"/></g><g id="k62-2"><use href="#GL" x="104"/></g><g id="k62-3"><use href="#WL" x="156"/></g><g id="k62-4"><use href="#WL" x="208"/></g><g id="k62-5"><use href="#WL" x="260"/></g><g id="k62-6"><use href="#GL" x="312"/></g><g id="k62-7"><use href="#GL" x="364"/></g><g id="k62-8"><use href="#GL" x="416"/></g><g id="k62-9"><use href="#GL" x="468"/></g><g id="k62-10"><use href="#GL" x="520"/></g></g>
<g transform="translate(0,3276)"><g id="k63-1"><use href="#GR" x="52"/></g><g id="k63-2"><use href="#WR" x="104"/></g><g id="k63-3"><use href="#PR" x="156"/></g><g id="k63-4"><use href="#DR" x="208"/></g><g id="k63-5"><use href="#WR" x="260"/></g><g id="k63-6"><use href="#WR" x="312"/></g><g id="k63-7"><use href="#GR" x="364"/></g><g id="k63-8"><use href="#GR" x="416"/></g><g id="k63-9"><use href="#GR" x="468"/></g><g id="k63-10"><use href="#GR" x="520"/></g></g>
<g transform="translate(0,3328)"><g id="k64-1"><use href="#WL" x="52"/></g><g id="k64-2"><use href="#DL" x="104"/></g><g id="k64-3"><use href="#WL" x="156"/></g><g id="k64-4"><use href="#DL" x="208"/></g><g id="k64-5"><use href="#WL" x="260"/></g><g id="k64-6"><use href="#WL" x="312"/></g><g id="k64-7"><use href="#DL" x="364"/></g><g id="k64-8"><use href="#GL" x="416"/></g><g id="k64-9"><use href="#GL" x="468"/></g><g id="k64-10"><use href="#WL" x="520"/></g></g>
<g transform="translate(0,3380)"><g id="k65-1"><use href="#PR" x="52"/></g><g id="k65-2"><use href="#WR" x="104"/></g><g id="k65-3"><use href="#WR" x="156"/></g><g id="k65-4"><use href="#WR" x="208"/></g><g id="k65-5"><use href="#WR" x="260"/></g><g id="k65-6"><use href="#WR" x="312"/></g><g id="k65-7"><use href="#DR" x="364"/></g><g id="k65-8"><use href="#GR" x="416"/></g><g id="k65-9"><use href="#GR" x="468"/></g><g id="k65-10"><use href="#GR" x="520"/></g></g>
<g transform="translate(0,3432)"><g id="k66-1"><use href="#DL" x="52"/></g><g id="k66-2"><use href="#DL" x="104"/></g><g id="k66-3"><use href="#WL" x="156"/></g><g id="k66-4"><use href="#WL" x="208"/></g><g id="k66-5"><use href="#WL" x="260"/></g><g id="k66-6"><use href="#WL" x="312"/></g><g id="k66-7"><use href="#GL" x="364"/></g><g id="k66-8"><use href="#GL" x="416"/></g><g id="k66-9"><use href="#GL" x="468"/></g><g id="k66-10"><use href="#GL" x="520"/></g></g>
<g transform="translate(0,3484)"><g id="k67-1"><use href="#WR" x="52"/></g><g id="k67-2"><use href="#WR" x="104"/></g><g id="k67-3"><use href="#WR" x="156"/></g><g id="k67-4"><use href="#WR" x="208"/></g><g id="k67-5"><use href="#WR" x="260"/></g><g id="k67-6"><use href="#GR" x="312"/></g><g id="k67-7"><use href="#GR" x="364"/></g><g id="k67-8"><use href="#GR" x="416"/></g><g id="k67-9"><use href="#GR" x="468"/></g><g id="k67-10"><use href="#GR" x="520"/></g></g>
<g transform="translate(0,3536)"><g id="k68-1"><use href="#WL" x="52"/></g><g id="k68-2"><use href="#WL" x="104"/></g><g id="k68-3"><use href="#WL" x="156"/></g><g id="k68-4"><use href="#WL" x="208"/></g><g id="k68-5"><use href="#GL" x="260"/></g><g id="k68-6"><use href="#GL" x="312"/></g><g id="k68-7"><use href="#GL" x="364"/></g><g id="k68-8"><use href="#GL" x="416"/></g><g id="k68-9"><use href="#GL" x="468"/></g><g id="k68-10"><use href="#GL" x="520"/></g></g>
<g transform="translate(0,3588)"><g id="k69-1"><use href="#GR" x="52"/></g><g id="k69-2"><use href="#DR" x="104"/></g><g id="k69-3"><use href="#DR" x="156"/></g><g id="k69-4"><use href="#GR" x="208"/></g><g id="k69-5"><use href="#GR" x="260"/></g><g id="k69-6"><use href="#WR" x="312"/></g><g id="k69-7"><use href="#GR" x="364"/></g><g id="k69-8"><use href="#GR" x="416"/></g><g id="k69-9"><use href="#GR" x="468"/></g><g id="k69-10"><use href="#GR" x="520"/></g></g>
<g transform="translate(0,3640)"><g id="k70-1"><use href="#GL" x="52"/></g><g id="k70-2"><use href="#GL" x="104"/></g><g id="k70-3"><use href="#GL" x="156"/></g><g id="k70-4"><use href="#GL" x="208"/></g><g id="k70-5"><use href="#GL" x="260"/></g><g id="k70-6"><use href="#GL" x="312"/></g><g id="k70-7"><use href="#GL" x="364"/></g><g id="k70-8"><use href="#GL" x="416"/></g><g id="k70-9"><use href="#GL" x="468"/></g><g id="k70-10"><use href="#GL" x="520"/></g></g>
<g transform="translate(0,3692)"><g id="k71-1"><use href="#GR" x="52"/></g><g id="k71-2"><use href="#GR" x="104"/></g><g id="k71-3"><use href="#GR" x="156"/></g><g id="k71-4"><use href="#GR" x="208"/></g><g id="k71-5"><use href="#GR" x="260"/></g><g id="k71-6"><use href="#GR" x="312"/></g><g id="k71-7"><use href="#GR" x="364"/></g><g id="k71-8"><use href="#WR" x="416"/></g><g id="k71-9"><use href="#GR" x="468"/></g><g id="k71-10"><use href="#GR" x="520"/></g></g>
<g transform="translate(0,3744)"><g id="k72-1"><use href="#GL" x="52"/></g><g id="k72-2"><use href="#GL" x="104"/></g><g id="k72-3"><use href="#GL" x="156"/></g><g id="k72-4"><use href="#GL" x="208"/></g><g id="k72-5"><use href="#GL" x="260"/></g><g id="k72-6"><use href="#GL" x="312"/></g><g id="k72-7"><use href="#WL" x="364"/></g><g id="k72-8"><use href="#WL" x="416"/></g><g id="k72-9"><use href="#WL" x="468"/></g><g id="k72-10"><use href="#GL" x="520"/></g></g>
<g transform="translate(0,3796)"><g id="k73-1"><use href="#GR" x="52"/></g><g id="k73-2"><use href="#GR" x="104"/></g><g id="k73-3"><use href="#GR" x="156"/></g><g id="k73-4"><use href="#GR" x="208"/></g><g id="k73-5"><use href="#GR" x="260"/></g><g id="k73-6"><use href="#GR" x="312"/></g><g id="k73-7"><use href="#GR" x="364"/></g><g id="k73-8"><use href="#WR" x="416"/></g><g id="k73-9"><use href="#GR" x="468"/></g><g id="k73-10"><use href="#GR" x="520"/></g></g>
<g transform="translate(0,3848)"><g id="k74-1"><use href="#GL" x="52"/></g><g id="k74-2"><use href="#GL" x="104"/></g><g id="k74-3"><use href="#WL" x="156"/></g><g id="k74-4"><use href="#GL" x="208"/></g><g id="k74-5"><use href="#GL" x="260"/></g><g id="k74-6"><use href="#GL" x="312"/></g><g id="k74-7"><use href="#GL" x="364"/></g><g id="k74-8"><use href="#GL" x="416"/></g><g id="k74-9"><use href="#GL" x="468"/></g><g id="k74-10"><use href="#GL" x="520"/></g></g>
<g transform="translate(0,3900)"><g id="k75-1"><use href="#GR" x="52"/></g><g id="k75-2"><use href="#GR" x="104"/></g><g id="k75-3"><use href="#GR" x="156"/></g><g id="k75-4"><use href="#GR" x="208"/></g><g id="k75-5"><use href="#GR" x="260"/></g><g id="k75-6"><use href="#GR" x="312"/></g><g id="k75-7"><use href="#GR" x="364"/></g><g id="k75-8"><use href="#GR" x="416"/></g><g id="k75-9"><use href="#GR" x="468"/></g><g id="k75-10"><use href="#GR" x="520"/></g></g>
<g transform="translate(0,3952)"><g id="k76-1"><use href="#GL" x="52"/></g><g id="k76-2"><use href="#GL" x="104"/></g><g id="k76-3"><use href="#GL" x="156"/></g><g id="k76-4"><use href="#GL" x="208"/></g><g id="k76-5"><use href="#GL" x="260"/></g><g id="k76-6"><use href="#GL" x="312"/></g><g id="k76-7"><use href="#GL" x="364"/></g><g id="k76-8"><use href="#GL" x="416"/></g><g id="k76-9"><use href="#GL" x="468"/></g><g id="k76-10"><use href="#GL" x="520"/></g></g>
<g transform="translate(0,4004)"><g id="k77-1"><use href="#GR" x="52"/></g><g id="k77-2"><use href="#GR" x="104"/></g><g id="k77-3"><use href="#GR" x="156"/></g><g id="k77-4"><use href="#GR" x="208"/></g><g id="k77-5"><use href="#GR" x="260"/></g><g id="k77-6"><use href="#GR" x="312"/></g><g id="k77-7"><use href="#GR" x="364"/></g><g id="k77-8"><use href="#GR" x="416"/></g><g id="k77-9"><use href="#GR" x="468"/></g><g id="k77-10"><use href="#GR" x="520"/></g></g>
<g transform="translate(0,4056)"><g id="k78-1"><use href="#WL" x="52"/></g><g id="k78-2"><use href="#GL" x="104"/></g><g id="k78-3"><use href="#GL" x="156"/></g><g id="k78-4"><use href="#GL" x="208"/></g><g id="k78-5"><use href="#GL" x="260"/></g><g id="k78-6"><use href="#WL" x="312"/></g><g id="k78-7"><use href="#WL" x="364"/></g><g id="k78-8"><use href="#WL" x="416"/></g><g id="k78-9"><use href="#GL" x="468"/></g><g id="k78-10"><use href="#GL" x="520"/></g></g>
<g transform="translate(0,4108)"><g id="k79-1"><use href="#GR" x="52"/></g><g id="k79-2"><use href="#GR" x="104"/></g><g id="k79-3"><use href="#GR" x="156"/></g><g id="k79-4"><use href="#GR" x="208"/></g><g id="k79-5"><use href="#WR" x="260"/></g><g id="k79-6"><use href="#PR" x="312"/></g><g id="k79-7"><use href="#DR" x="364"/></g><g id="k79-8"><use href="#WR" x="416"/></g><g id="k79-9"><use href="#WR" x="468"/></g><g id="k79-10"><use href="#GR" x="520"/></g></g>
<g transform="translate(0,4160)"><g id="k80-1"><use href="#GL" x="52"/></g><g id="k80-2"><use href="#GL" x="104"/></g><g id="k80-3"><use href="#GL" x="156"/></g><g id="k80-4"><use href="#WL" x="208"/></g><g id="k80-5"><use href="#DL" x="260"/></g><g id="k80-6"><use href="#WL" x="312"/></g><g id="k80-7"><use href="#DL" x="364"/></g><g id="k80-8"><use href="#WL" x="416"/></g><g id="k80-9"><use href="#WL" x="468"/></g><g id="k80-10"><use href="#DL" x="520"/></g></g>
<g transform="translate(0,4212)"><g id="k81-1"><use href="#GR" x="52"/></g><g id="k81-2"><use href="#GR" x="104"/></g><g id="k81-3"><use href="#WR" x="156"/></g><g id="k81-4"><use href="#PR" x="208"/></g><g id="k81-5"><use href="#WR" x="260"/></g><g id="k81-6"><use href="#WR" x="312"/></g><g id="k81-7"><use href="#WR" x="364"/></g><g id="k81-8"><use href="#WR" x="416"/></g><g id="k81-9"><use href="#WR" x="468"/></g><g id="k81-10"><use href="#DR" x="520"/></g></g>
<g transform="translate(0,4264)"><g id="k82-1"><use href="#GL" x="52"/></g><g id="k82-2"><use href="#GL" x="104"/></g><g id="k82-3"><use href="#WL" x="156"/></g><g id="k82-4"><use href="#DL" x="208"/></g><g id="k82-5"><use href="#DL" x="260"/></g><g id="k82-6"><use href="#WL" x="312"/></g><g id="k82-7"><use href="#WL" x="364"/></g><g id="k82-8"><use href="#WL" x="416"/></g><g id="k82-9"><use href="#WL" x="468"/></g><g id="k82-10"><use href="#GL" x="520"/></g></g>
</g>
<g id="labels">
<text class="pl" x="-0.5" y="55.8" fill="#fff">A</text>
<text class="pl" x="-0.5" y="4267.8" fill="#fff">A</text>
<text class="pl" x="566" y="107.9" fill="#333">D</text>
<text class="pl" x="566" y="4215.9" fill="#333">D</text>
<path class="gl" d="M-6,104h40m-40,52h40m-40,52h40m-40,52h40m-40,52h40m-40,52h40m-40,52h40m-40,52h40m-40,52h40m-40,52h40m-40,52h40m-40,52h40m-40,52h40m-40,52h40m-40,52h40m-40,52h40m-40,52h40m-40,52h40m-40,52h40m-40,52h40m-40,52h40m-40,52h40m-40,52h40m-40,52h40m-40,52h40m-40,52h40m-40,52h40m-40,52h40m-40,52h40m-40,52h40m-40,52h40m-40,52h40m-40,52h40m-40,52h40m-40,52h40m-40,52h40m-40,52h40m-40,52h40m-40,52h40m-40,52h40m-40,52h40m-40,52h40m-40,52h40m-40,52h40m-40,52h40m-40,52h40m-40,52h40m-40,52h40m-40,52h40m-40,52h40m-40,52h40m-40,52h40m-40,52h40m-40,52h40m-40,52h40m-40,52h40m-40,52h40m-40,52h40m-40,52h40m-40,52h40m-40,52h40m-40,52h40m-40,52h40m-40,52h40m-40,52h40m-40,52h40m-40,52h40m-40,52h40m-40,52h40m-40,52h40m-40,52h40m-40,52h40m-40,52h40m-40,52h40m-40,52h40m-40,52h40m-40,52h40m-40,52h40m-40,52h40"/>
<path class="gl" d="M538,52h40M538,156h40m-40,52h40m-40,52h40m-40,52h40m-40,52h40m-40,52h40m-40,52h40m-40,52h40m-40,52h40m-40,52h40m-40,52h40m-40,52h40m-40,52h40m-40,52h40m-40,52h40m-40,52h40m-40,52h40m-40,52h40m-40,52h40m-40,52h40m-40,52h40m-40,52h40m-40,52h40m-40,52h40m-40,52h40m-40,52h40m-40,52h40m-40,52h40m-40,52h40m-40,52h40m-40,52h40m-40,52h40m-40,52h40m-40,52h40m-40,52h40m-40,52h40m-40,52h40m-40,52h40m-40,52h40m-40,52h40m-40,52h40m-40,52h40m-40,52h40m-40,52h40m-40,52h40m-40,52h40m-40,52h40m-40,52h40m-40,52h40m-40,52h40m-40,52h40m-40,52h40m-40,52h40m-40,52h40m-40,52h40m-40,52h40m-40,52h40m-40,52h40m-40,52h40m-40,52h40m-40,52h40m-40,52h40m-40,52h40m-40,52h40m-40,52h40m-40,52h40m-40,52h40m-40,52h40m-40,52h40m-40,52h40m-40,52h40m-40,52h40M538,4264h40"/>
<text class="ll" x="-11" y="56.5">1</text><text class="ll" x="-11" y="108.5">2</text><text class="ll" x="-11" y="160.5">3</text><text class="ll" x="-11" y="212.5">4</text><text class="ll" x="-11" y="264.5">5</text><text class="ll" x="-11" y="316.5">6</text><text class="ll" x="-11" y="368.5">7</text><text class="ll" x="-11" y="420.5">8</text><text class="ll" x="-11" y="472.5">9</text><text class="ll" x="-11" y="524.5">10</text>
<text class="ll" x="-11" y="576.5">11</text><text class="ll" x="-11" y="628.5">12</text><text class="ll" x="-11" y="680.5">13</text><text class="ll" x="-11" y="732.5">14</text><text class="ll" x="-11" y="784.5">15</text><text class="ll" x="-11" y="836.5">16</text><text class="ll" x="-11" y="888.5">17</text><text class="ll" x="-11" y="940.5">18</text><text class="ll" x="-11" y="992.5">19</text><text class="ll" x="-11" y="1044.5">20</text>
<text class="ll" x="-11" y="1096.5">21</text><text class="ll" x="-11" y="1148.5">22</text><text class="ll" x="-11" y="1200.5">23</text><text class="ll" x="-11" y="1252.5">24</text><text class="ll" x="-11" y="1304.5">25</text><text class="ll" x="-11" y="1356.5">26</text><text class="ll" x="-11" y="1408.5">27</text><text class="ll" x="-11" y="1460.5">28</text><text class="ll" x="-11" y="1512.5">29</text><text class="ll" x="-11" y="1564.5">30</text>
<text class="ll" x="-11" y="1616.5">31</text><text class="ll" x="-11" y="1668.5">32</text><text class="ll" x="-11" y="1720.5">33</text><text class="ll" x="-11" y="1772.5">34</text><text class="ll" x="-11" y="1824.5">35</text><text class="ll" x="-11" y="1876.5">36</text><text class="ll" x="-11" y="1928.5">37</text><text class="ll" x="-11" y="1980.5">38</text><text class="ll" x="-11" y="2032.5">39</text><text class="ll" x="-11" y="2084.5">40</text>
<text class="ll" x="-11" y="2136.5">41</text><text class="ll" x="-11" y="2188.5">42</text><text class="ll" x="-11" y="2240.5">43</text><text class="ll" x="-11" y="2292.5">44</text><text class="ll" x="-11" y="2344.5">45</text><text class="ll" x="-11" y="2396.5">46</text><text class="ll" x="-11" y="2448.5">47</text><text class="ll" x="-11" y="2500.5">48</text><text class="ll" x="-11" y="2552.5">49</text><text class="ll" x="-11" y="2604.5">50</text>
<text class="ll" x="-11" y="2656.5">51</text><text class="ll" x="-11" y="2708.5">52</text><text class="ll" x="-11" y="2760.5">53</text><text class="ll" x="-11" y="2812.5">54</text><text class="ll" x="-11" y="2864.5">55</text><text class="ll" x="-11" y="2916.5">56</text><text class="ll" x="-11" y="2968.5">57</text><text class="ll" x="-11" y="3020.5">58</text><text class="ll" x="-11" y="3072.5">59</text><text class="ll" x="-11" y="3124.5">60</text>
<text class="ll" x="-11" y="3176.5">61</text><text class="ll" x="-11" y="3228.5">62</text><text class="ll" x="-11" y="3280.5">63</text><text class="ll" x="-11" y="3332.5">64</text><text class="ll" x="-11" y="3384.5">65</text><text class="ll" x="-11" y="3436.5">66</text><text class="ll" x="-11" y="3488.5">67</text><text class="ll" x="-11" y="3540.5">68</text><text class="ll" x="-11" y="3592.5">69</text><text class="ll" x="-11" y="3644.5">70</text>
<text class="ll" x="-11" y="3696.5">71</text><text class="ll" x="-11" y="3748.5">72</text><text class="ll" x="-11" y="3800.5">73</text><text class="ll" x="-11" y="3852.5">74</text><text class="ll" x="-11" y="3904.5">75</text><text class="ll" x="-11" y="3956.5">76</text><text class="ll" x="-11" y="4008.5">77</text><text class="ll" x="-11" y="4060.5">78</text><text class="ll" x="-11" y="4112.5">79</text><text class="ll" x="-11" y="4164.5">80</text>
<text class="ll" x="-11" y="4216.5">81</text><text class="ll" x="-11" y="4268.5">82</text>
<text class="lr" x="581" y="56.5">1</text><text class="lr" x="581" y="108.5">2</text><text class="lr" x="581" y="160.5">3</text><text class="lr" x="581" y="212.5">4</text><text class="lr" x="581" y="264.5">5</text><text class="lr" x="581" y="316.5">6</text><text class="lr" x="581" y="368.5">7</text><text class="lr" x="581" y="420.5">8</text><text class="lr" x="581" y="472.5">9</text><text class="lr" x="581" y="524.5">10</text>
<text class="lr" x="581" y="576.5">11</text><text class="lr" x="581" y="628.5">12</text><text class="lr" x="581" y="680.5">13</text><text class="lr" x="581" y="732.5">14</text><text class="lr" x="581" y="784.5">15</text><text class="lr" x="581" y="836.5">16</text><text class="lr" x="581" y="888.5">17</text><text class="lr" x="581" y="940.5">18</text><text class="lr" x="581" y="992.5">19</text><text class="lr" x="581" y="1044.5">20</text>
<text class="lr" x="581" y="1096.5">21</text><text class="lr" x="581" y="1148.5">22</text><text class="lr" x="581" y="1200.5">23</text><text class="lr" x="581" y="1252.5">24</text><text class="lr" x="581" y="1304.5">25</text><text class="lr" x="581" y="1356.5">26</text><text class="lr" x="581" y="1408.5">27</text><text class="lr" x="581" y="1460.5">28</text><text class="lr" x="581" y="1512.5">29</text><text class="lr" x="581" y="1564.5">30</text>
<text class="lr" x="581" y="1616.5">31</text><text class="lr" x="581" y="1668.5">32</text><text class="lr" x="581" y="1720.5">33</text><text class="lr" x="581" y="1772.5">34</text><text class="lr" x="581" y="1824.5">35</text><text class="lr" x="581" y="1876.5">36</text><text class="lr" x="581" y="1928.5">37</text><text class="lr" x="581" y="1980.5">38</text><text class="lr" x="581" y="2032.5">39</text><text class="lr" x="581" y="2084.5">40</text>
<text class="lr" x="581" y="2136.5">41</text><text class="lr" x="581" y="2188.5">42</text><text class="lr" x="581" y="2240.5">43</text><text class="lr" x="581" y="2292.5">44</text><text class="lr" x="581" y="2344.5">45</text><text class="lr" x="581" y="2396.5">46</text><text class="lr" x="581" y="2448.5">47</text><text class="lr" x="581" y="2500.5">48</text><text class="lr" x="581" y="2552.5">49</text><text class="lr" x="581" y="2604.5">50</text>
<text class="lr" x="581" y="2656.5">51</text><text class="lr" x="581" y="2708.5">52</text><text class="lr" x="581" y="2760.5">53</text><text class="lr" x="581" y="2812.5">54</text><text class="lr" x="581" y="2864.5">55</text><text class="lr" x="581" y="2916.5">56</text><text class="lr" x="581" y="2968.5">57</text><text class="lr" x="581" y="3020.5">58</text><text class="lr" x="581" y="3072.5">59</text><text class="lr" x="581" y="3124.5">60</text>
<text class="lr" x="581" y="3176.5">61</text><text class="lr" x="581" y="3228.5">62</text><text class="lr" x="581" y="3280.5">63</text><text class="lr" x="581" y="3332.5">64</text><text class="lr" x="581" y="3384.5">65</text><text class="lr" x="581" y="3436.5">66</text><text class="lr" x="581" y="3488.5">67</text><text class="lr" x="581" y="3540.5">68</text><text class="lr" x="581" y="3592.5">69</text><text class="lr" x="581" y="3644.5">70</text>
<text class="lr" x="581" y="3696.5">71</text><text class="lr" x="581" y="3748.5">72</text><text class="lr" x="581" y="3800.5">73</text><text class="lr" x="581" y="3852.5">74</text><text class="lr" x="581" y="3904.5">75</text><text class="lr" x="581" y="3956.5">76</text><text class="lr" x="581" y="4008.5">77</text><text class="lr" x="581" y="4060.5">78</text><text class="lr" x="581" y="4112.5">79</text><text class="lr" x="581" y="4164.5">80</text>
<text class="lr" x="581" y="4216.5">81</text><text class="lr" x="581" y="4268.5">82</text>
<text class="wm" x="286" y="2163">BRACELETBOOK.COM</text>
</g>
</g>
</svg>
